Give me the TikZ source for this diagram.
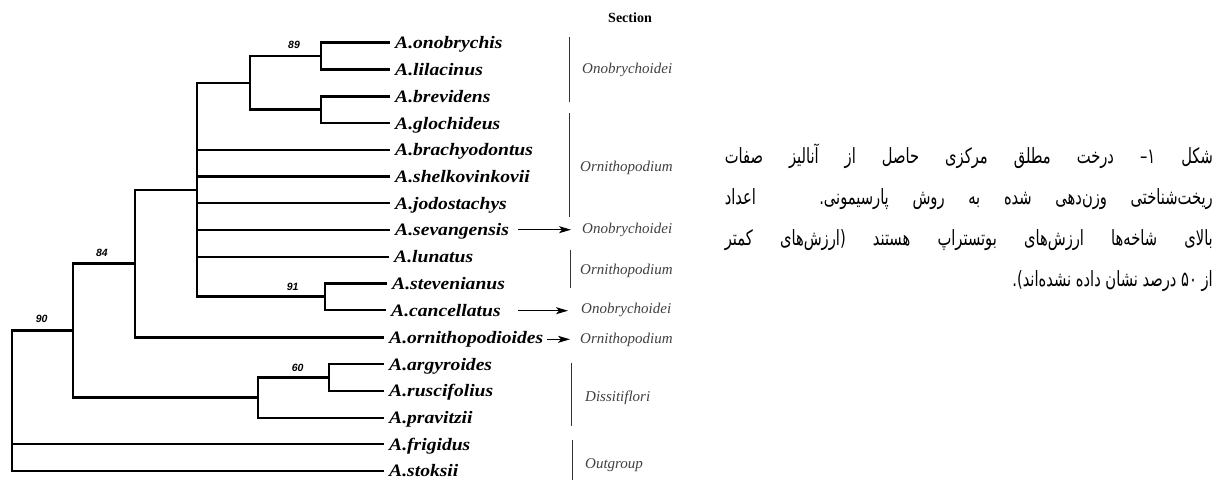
\documentclass[tikz,border=0pt]{standalone}
\usepackage{fontspec}
\setmainfont{Liberation Serif}
\newfontfamily\leaffont[FakeStretch=1.12]{Liberation Serif}
\newfontfamily\secfont{Liberation Serif}
\newfontfamily\bsfont{Liberation Sans}
\newfontfamily\fa[Script=Arabic,FakeStretch=0.7]{DejaVu Sans}
\TeXXeTstate=1
\usetikzlibrary{arrows.meta}
\tikzset{
  br/.style={line width=2.4pt, line join=miter},
  leaf/.style={font={\leaffont\bfseries\itshape\fontsize{17.5pt}{20pt}\selectfont}, anchor=west, inner sep=0pt, text height=13pt, text depth=1pt},
  sec/.style={font={\secfont\itshape\fontsize{15pt}{18pt}\selectfont}, text=black!75, anchor=west, inner sep=0pt, text height=7pt, text depth=0pt},
  sechead/.style={font={\secfont\bfseries\fontsize{14pt}{16pt}\selectfont}, inner sep=0pt},
  bs/.style={font={\bsfont\bfseries\itshape\fontsize{10.5pt}{12pt}\selectfont}, inner sep=0pt},
  bar/.style={line width=0.7pt, black!80},
  arr/.style={line width=1pt, -{Stealth[length=12pt,width=7pt,inset=3pt]}},
  captxt/.style={font={\fa\fontsize{21pt}{25pt}\selectfont}, anchor=base east, inner sep=0pt}
}
\begin{document}
\begin{tikzpicture}[x=1pt,y=-1pt]
\useasboundingbox (0,0) rectangle (1231,480);
% leaf tips
\coordinate (t1) at (390,42.3);
\coordinate (t2) at (390,69.3);
\coordinate (t3) at (390,96.3);
\coordinate (t4) at (390,123);
\coordinate (t5) at (390,149.7);
\coordinate (t6) at (390,176.3);
\coordinate (t7) at (390,203);
\coordinate (t8) at (390,229.7);
\coordinate (t9) at (389,256.7);
\coordinate (t10) at (387,283.3);
\coordinate (t11) at (386,310);
\coordinate (t12) at (384,337.3);
\coordinate (t13) at (384,364);
\coordinate (t14) at (384,390.7);
\coordinate (t15) at (384,417.7);
\coordinate (t16) at (384,444);
\coordinate (t17) at (384,470.7);
% internal nodes
\coordinate (n89) at (321,55.8);
\coordinate (nR) at (321,109.65);
\coordinate (nQ) at (250,82.7);
\coordinate (n91) at (325,296.65);
\coordinate (nP) at (197,189.7);
\coordinate (n84) at (135,263.5);
\coordinate (n60) at (329,377.35);
\coordinate (nD) at (258,397.5);
\coordinate (nA) at (73,330.5);
\coordinate (root) at (12,400);
% branches
\draw[br] (root) |- (nA);
\draw[br] (root) |- (t16);
\draw[br] (root) |- (t17);
\draw[br] (nA) |- (n84);
\draw[br] (nA) |- (nD);
\draw[br] (n84) |- (nP);
\draw[br] (n84) |- (t12);
\draw[br] (nP) |- (nQ);
\draw[br] (nP) |- (t5);
\draw[br] (nP) |- (t6);
\draw[br] (nP) |- (t7);
\draw[br] (nP) |- (t8);
\draw[br] (nP) |- (t9);
\draw[br] (nP) |- (n91);
\draw[br] (nQ) |- (n89);
\draw[br] (nQ) |- (nR);
\draw[br] (n89) |- (t1);
\draw[br] (n89) |- (t2);
\draw[br] (nR) |- (t3);
\draw[br] (nR) |- (t4);
\draw[br] (n91) |- (t10);
\draw[br] (n91) |- (t11);
\draw[br] (nD) |- (n60);
\draw[br] (nD) |- (t15);
\draw[br] (n60) |- (t13);
\draw[br] (n60) |- (t14);
% bootstrap values
\node[bs] (b89) at (294,45) {89};
\node[bs] (b91) at (292.7,287.3) {91};
\node[bs] (b84) at (102,253) {84};
\node[bs] (b90) at (41.7,319) {90};
\node[bs] (b60) at (297.7,368.3) {60};
% leaf labels
\node[leaf] (l1) at ([xshift=5pt]t1) {A.onobrychis};
\node[leaf] (l2) at ([xshift=5pt]t2) {A.lilacinus};
\node[leaf] (l3) at ([xshift=5pt]t3) {A.brevidens};
\node[leaf] (l4) at ([xshift=5pt]t4) {A.glochideus};
\node[leaf] (l5) at ([xshift=5pt]t5) {A.brachyodontus};
\node[leaf] (l6) at ([xshift=5pt]t6) {A.shelkovinkovii};
\node[leaf] (l7) at ([xshift=5pt]t7) {A.jodostachys};
\node[leaf] (l8) at ([xshift=5pt]t8) {A.sevangensis};
\node[leaf] (l9) at ([xshift=5pt]t9) {A.lunatus};
\node[leaf] (l10) at ([xshift=5pt]t10) {A.stevenianus};
\node[leaf] (l11) at ([xshift=5pt]t11) {A.cancellatus};
\node[leaf] (l12) at ([xshift=5pt]t12) {A.ornithopodioides};
\node[leaf] (l13) at ([xshift=5pt]t13) {A.argyroides};
\node[leaf] (l14) at ([xshift=5pt]t14) {A.ruscifolius};
\node[leaf] (l15) at ([xshift=5pt]t15) {A.pravitzii};
\node[leaf] (l16) at ([xshift=5pt]t16) {A.frigidus};
\node[leaf] (l17) at ([xshift=5pt]t17) {A.stoksii};
% sections
\node[sechead] (sec) at (630,18) {Section};
\node[sec] (s1) at (582,69.5) {Onobrychoidei};
\node[sec] (s2) at (580,168) {Ornithopodium};
\node[sec] (s3) at (582,230) {Onobrychoidei};
\node[sec] (s4) at (580,271) {Ornithopodium};
\node[sec] (s5) at (581,310) {Onobrychoidei};
\node[sec] (s6) at (580,340) {Ornithopodium};
\node[sec] (s7) at (585,398) {Dissitiflori};
\node[sec] (s8) at (585,465) {Outgroup};
\draw[bar] (569,36.7) -- (569,101.7);
\draw[bar] (569,113) -- (569,216.7);
\draw[bar] (570,250) -- (570,288);
\draw[bar] (571,362.7) -- (571,425.5);
\draw[bar] (572,440) -- (572,480);
% arrows
\coordinate (a1) at (518,229.7);
\coordinate (a2) at (518,310.7);
\coordinate (a3) at (547,339.3);
\draw[arr, shorten >=11pt] (a1) -- (a1 -| s3.west);
\draw[arr, shorten >=13pt] (a2) -- (a2 -| s5.west);
\draw[arr, shorten >=10pt] (a3) -- (a3 -| s6.west);
% caption
\node[captxt] (c1) at (1213,163) {\hbox to 488pt{\beginR شکل ۱\kern0pt– درخت مطلق مرکزی حاصل از آنالیز صفات\endR}};
\node[captxt] (c2) at (1213,204) {\hbox to 488pt{\beginR ریخت^^^^200cشناختی وزن^^^^200cدهی شده به روش پارسیمونی. اعداد\endR}};
\node[captxt] (c3) at (1213,245) {\hbox to 488pt{\beginR بالای شاخه^^^^200cها ارزش^^^^200cهای بوتستراپ هستند (ارزش^^^^200cهای کمتر\endR}};
\node[captxt] (c4) at (1213,286) {\beginR از ۵۰ درصد نشان داده نشده^^^^200cاند).\endR};
\end{tikzpicture}
\end{document}
